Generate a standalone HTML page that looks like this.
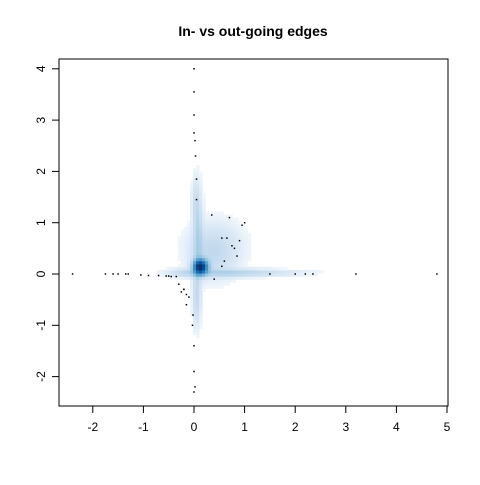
<!DOCTYPE html>
<html><head><meta charset="utf-8"><style>
body{margin:0;background:#fff;font-family:"Liberation Sans",sans-serif}
svg text{font-family:"Liberation Sans",sans-serif}
</style></head><body>
<svg id="c" width="480" height="480">
<text x="253" y="36" text-anchor="middle" font-size="14" font-weight="bold">In- vs out-going edges</text>
<g id="dens"></g>
<g id="pts"></g>
<rect x="59" y="59" width="389" height="347" fill="none" stroke="#000"/>
<g id="axes"></g>
</svg>
<script>
const xTicks=[-2,-1,0,1,2,3,4,5];
const yTicks=[-2,-1,0,1,2,3,4];
// density blobs: centre x, centre y, spread x, spread y, weight
const blobX=[0.1,0.05,0.02,0.6,0.35,1.2,-0.2,0.0,0.4];
const blobY=[0.12,0.7,-0.5,0.0,0.35,0.0,0.0,1.4,0.6];
const blobSX=[0.09,0.06,0.05,0.6,0.3,0.7,0.2,0.05,0.35];
const blobSY=[0.09,0.55,0.35,0.05,0.3,0.04,0.05,0.3,0.3];
const blobW=[1.0,0.12,0.1,0.1,0.08,0.05,0.07,0.06,0.04];
const ptX=[-2.4,-1.75,-1.6,-1.5,-1.35,-1.3,-1.05,-0.9,-0.7,-0.55,-0.5,-0.45,-0.35,-0.3,-0.25,-0.2,-0.15,0,0,0,0,0.02,0.03,0.05,-0.02,-0.03,0,0,0.0,0.02,0.35,0.7,0.55,0.65,0.75,0.8,0.95,1.0,0.9,0.85,0.6,0.55,1.5,2.0,2.2,2.35,3.2,4.8,0.4,0.05,-0.1,-0.15,-0.2];
const ptY=[0.0,0.0,0.0,0.0,0.0,0.0,-0.02,-0.03,-0.03,-0.04,-0.04,-0.05,-0.05,-0.2,-0.35,-0.3,-0.4,4.0,3.55,3.1,2.75,2.6,2.3,1.85,-0.8,-1.0,-1.4,-1.9,-2.3,-2.2,1.15,1.1,0.7,0.7,0.55,0.5,0.95,1.0,0.65,0.35,0.25,0.15,0.0,0.0,0.0,0.0,0.0,0.0,-0.1,1.45,-0.45,-0.6,-0.3];
const X=v=>194+50.6*v, Y=v=>274-51.3*v;
const NS='http://www.w3.org/2000/svg';
const pal=[[255,255,255],[222,235,247],[198,219,239],[158,202,225],[107,174,214],[66,146,198],[33,113,181],[8,81,156],[8,48,107]];
function col(t){const p=t*(pal.length-1),i=Math.min(pal.length-2,Math.floor(p)),f=p-i;return pal[i].map((c,k)=>Math.round(c+(pal[i+1][k]-c)*f));}
const dens=document.getElementById('dens');
const step=0.06;
for(let gx=-2.6;gx<4.9;gx+=step){for(let gy=-2.5;gy<4.2;gy+=step){
 let d=0;for(let i=0;i<blobX.length;i++){const a=(gx-blobX[i])/blobSX[i],b=(gy-blobY[i])/blobSY[i];d+=blobW[i]*Math.exp(-0.5*(a*a+b*b));}
 if(d<0.008)continue;d=Math.min(1,d);
 const c=col(Math.pow(d,0.6));
 const e=document.createElementNS(NS,'rect');
 e.setAttribute('x',X(gx).toFixed(1));e.setAttribute('y',Y(gy+step).toFixed(1));
 e.setAttribute('width',(50.6*step+0.6).toFixed(1));e.setAttribute('height',(51.3*step+0.6).toFixed(1));
 e.setAttribute('fill',`rgb(${c[0]},${c[1]},${c[2]})`);
 
 
 dens.appendChild(e);}}
const pts=document.getElementById('pts');
for(let i=0;i<ptX.length;i++){const e=document.createElementNS(NS,'rect');
 e.setAttribute('x',X(ptX[i])-0.75);e.setAttribute('y',Y(ptY[i])-0.75);e.setAttribute('width',1.5);e.setAttribute('height',1.5);e.setAttribute('fill','#000');
 
 
 pts.appendChild(e);}
const ax=document.getElementById('axes');
function add(tag,attrs,txt){const e=document.createElementNS(NS,tag);for(const k in attrs)e.setAttribute(k,attrs[k]);if(txt!==undefined)e.textContent=txt;ax.appendChild(e);return e;}
xTicks.forEach(v=>{const l=add('line',{x1:X(v),x2:X(v),y1:406,y2:413,stroke:'#000'});
 const t=add('text',{x:X(v),y:431,'text-anchor':'middle','font-size':12},v);});
yTicks.forEach(v=>{const l=add('line',{x1:52,x2:59,y1:Y(v),y2:Y(v),stroke:'#000'});
 const t=add('text',{x:0,y:0,'text-anchor':'middle','font-size':12,transform:`translate(45,${Y(v)}) rotate(-90)`},v);});
</script>
</body></html>
